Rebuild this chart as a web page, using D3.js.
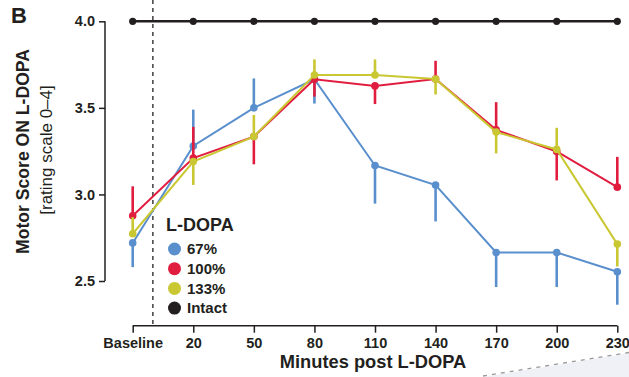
<!DOCTYPE html>
<html><head><meta charset="utf-8">
<script src="https://cdn.jsdelivr.net/npm/d3@7"></script>
<style>
html,body{margin:0;padding:0;background:#fff;}
svg{display:block;font-family:"Liberation Sans",Arial,Helvetica,sans-serif;}
</style></head>
<body>
<svg id="c" width="629" height="377"></svg>
<script>
const categories = ["Baseline","20","50","80","110","140","170","200","230"];
const yTicks = [2.5, 3.0, 3.5, 4.0];
const seriesNames = ["67%","100%","133%","Intact"];
const seriesColors = ["#5a8fcd","#e11d3f","#c9c732","#231f20"];
const blueVals   = [2.72, 3.28, 3.50, 3.665, 3.167, 3.054, 2.665, 2.665, 2.553];
const blueErr    = [0.14, 0.21, 0.17, 0.14, 0.22, 0.21, 0.20, 0.20, 0.19];
const blueDir    = [-1, 1, 1, -1, -1, -1, -1, -1, -1];
const redVals    = [2.877, 3.21, 3.334, 3.665, 3.627, 3.667, 3.373, 3.248, 3.042];
const redErr     = [0.17, 0.18, 0.16, 0.10, 0.105, 0.105, 0.16, 0.167, 0.175];
const redDir     = [1, 1, -1, -1, -1, 1, 1, -1, 1];
const yellowVals = [2.773, 3.19, 3.334, 3.69, 3.69, 3.667, 3.36, 3.26, 2.713];
const yellowErr  = [0.096, 0.135, 0.125, 0.09, 0.09, 0.09, 0.123, 0.125, 0.129];
const yellowDir  = [1, -1, 1, 1, 1, -1, -1, 1, -1];
const intactVals = [4, 4, 4, 4, 4, 4, 4, 4, 4];

const svg = d3.select("#c");
const x = d3.scalePoint().domain(categories).range([132.7, 617.3]);
const y = d3.scaleLinear().domain([2.5, 4.0]).range([281, 21.3]);

// decorative wedge bottom-right
svg.append("path").attr("d","M483,377 L629,353 L629,377 Z").attr("fill","#f0f1f6");
svg.append("path").attr("d","M483,376 L629,352.5").attr("stroke","#999").attr("stroke-width",1.3).attr("stroke-dasharray","4,5").attr("fill","none");

// dashed separator
const step = x.step();
svg.append("line").attr("x1", x("Baseline")+step/3).attr("x2", x("Baseline")+step/3)
  .attr("y1", 0).attr("y2", 325).attr("stroke","#231f20").attr("stroke-width",1.3).attr("stroke-dasharray","4,4");

// axes
const yAxis = d3.axisLeft(y).tickValues(yTicks).tickFormat(d3.format(".1f")).tickSize(6).tickPadding(4);
const gy = svg.append("g").attr("transform","translate(105,0)").call(yAxis);
const xAxis = d3.axisBottom(x).tickSize(7).tickPadding(5);
const gx = svg.append("g").attr("transform","translate(0,325.7)").call(xAxis);
[gy,gx].forEach(g=>{
  g.select(".domain").attr("stroke","#231f20").attr("stroke-width",1.5);
  g.selectAll(".tick line").attr("stroke","#231f20").attr("stroke-width",1.5);
  g.selectAll(".tick text").attr("fill","#231f20").attr("font-size",14.5).attr("font-weight","bold")
   .attr("font-family","'Liberation Sans',Arial,sans-serif");
});
gy.select(".domain").attr("d","M0,281V21.3");
gx.select(".domain").attr("d",`M${x("Baseline")},0H${x("230")}`);

// series
const series = [
  {vals: blueVals, err: blueErr, dir: blueDir, c: seriesColors[0]},
  {vals: redVals, err: redErr, dir: redDir, c: seriesColors[1]},
  {vals: yellowVals, err: yellowErr, dir: yellowDir, c: seriesColors[2]},
];
const line = d3.line().x((d,i)=>x(categories[i])).y(d=>y(d));

// intact
svg.append("path").datum(intactVals).attr("d", line).attr("fill","none")
  .attr("stroke", seriesColors[3]).attr("stroke-width",2.5);
svg.append("g").selectAll("circle").data(intactVals).join("circle")
  .attr("cx",(d,i)=>x(categories[i])).attr("cy",d=>y(d)).attr("r",3.6).attr("fill",seriesColors[3]);

series.forEach(s=>{
  const g = svg.append("g");
  g.selectAll("line").data(s.vals).join("line")
    .attr("x1",(d,i)=>x(categories[i])).attr("x2",(d,i)=>x(categories[i]))
    .attr("y1",d=>y(d)).attr("y2",(d,i)=>y(d + s.dir[i]*s.err[i]))
    .attr("stroke",s.c).attr("stroke-width",2.6);
  g.append("path").datum(s.vals).attr("d",line).attr("fill","none")
    .attr("stroke",s.c).attr("stroke-width",2);
  g.selectAll("circle").data(s.vals).join("circle")
    .attr("cx",(d,i)=>x(categories[i])).attr("cy",d=>y(d)).attr("r",3.8).attr("fill",s.c);
});

// legend
const lg = svg.append("g");
lg.append("text").attr("x",166).attr("y",231).text("L-DOPA")
  .attr("font-size",18).attr("font-weight","bold").attr("fill","#231f20");
seriesNames.forEach((n,i)=>{
  const cy = 249 + i*19.7;
  lg.append("circle").attr("cx",174.5).attr("cy",cy).attr("r",6.5).attr("fill",seriesColors[i]);
  lg.append("text").attr("x",187).attr("y",cy+5.3).text(n)
    .attr("font-size",15).attr("font-weight","bold").attr("fill","#231f20");
});

// titles
svg.append("text").attr("x",373).attr("y",368).attr("text-anchor","middle")
  .text("Minutes post L-DOPA").attr("font-size",18.3).attr("font-weight","bold").attr("fill","#231f20");
svg.append("text").attr("transform","translate(28.5,151.5) rotate(-90)").attr("text-anchor","middle")
  .text("Motor Score ON L-DOPA").attr("font-size",17.6).attr("font-weight","bold").attr("fill","#231f20");
svg.append("text").attr("transform","translate(52,150) rotate(-90)").attr("text-anchor","middle")
  .text("[rating scale 0–4]").attr("font-size",17).attr("fill","#231f20");
svg.append("text").attr("x",11).attr("y",23).text("B")
  .attr("font-size",22).attr("font-weight","bold").attr("fill","#231f20");
</script>
</body></html>
